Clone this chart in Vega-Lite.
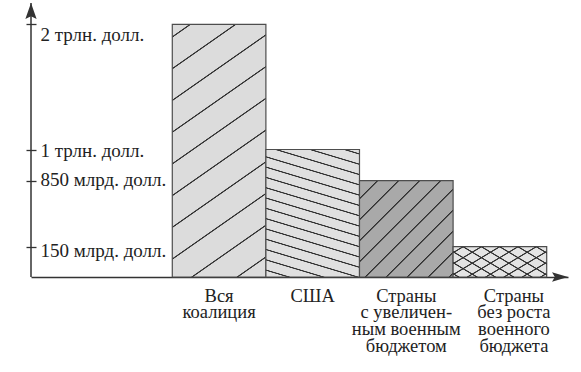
{
  "$schema": "https://vega.github.io/schema/vega-lite/v6.json",
  "width": 537,
  "height": 274,
  "autosize": "none",
  "padding": {"left": 31, "top": 3, "right": 13, "bottom": 95},
  "background": "white",
  "config": {"view": {"stroke": null}, "font": "Liberation Serif"},
  "data": {"values": [
    {"label": "Вся\nкоалиция", "value": 2000},
    {"label": "США", "value": 1000},
    {"label": "Страны\nс увеличен-\nным военным\nбюджетом", "value": 850},
    {"label": "Страны\nбез роста\nвоенного\nбюджета", "value": 150}
  ]},
  "resolve": {"scale": {"x": "independent"}},
  "layer": [
    {
      "layer": [
        {
          "mark": {"type": "bar", "opacity": 0},
          "encoding": {
            "x": {"field": "label", "type": "nominal", "sort": null, "title": null,
              "scale": {"paddingInner": 0, "paddingOuter": 0.8685, "align": 0.869},
              "axis": {"orient": "bottom", "domain": true, "domainColor": "#333333", "domainWidth": 1.5,
                "ticks": false, "grid": false, "labelAngle": 0, "labelFont": "Liberation Serif",
                "labelFontSize": 18.5, "labelColor": "#222222", "labelExpr": "split(datum.label, '\\n')",
                "labelBaseline": "alphabetic", "labelPadding": 24, "labelLineHeight": 16.7,
                "labelOverlap": false, "labelLimit": 0, "labelBound": false,
                "labelOffset": {"condition": {"test": "indexof(datum.value, 'без') >= 0", "value": 14}, "value": 0}}},
            "y": {"field": "value", "type": "quantitative", "title": null,
              "scale": {"domain": [0, 150, 850, 1000, 2000, 2170], "range": [274, 243.7, 177.7, 146.5, 21.3, 0], "nice": false, "zero": false},
              "axis": {"orient": "left", "values": [150, 850, 1000, 2000], "offset": -5, "domain": false,
                "ticks": true, "tickSize": 10, "tickColor": "#333333", "tickWidth": 1.3, "grid": false,
                "labelAlign": "left", "labelPadding": -14, "labelBaseline": "alphabetic",
                "labelOffset": {"condition": [
                  {"test": "datum.value == 2000", "value": 16.4},
                  {"test": "datum.value == 150", "value": 9.3},
                  {"test": "datum.value == 850", "value": 4.3}
                ], "value": 6.7},
                "labelExpr": "datum.value == 2000 ? '2 трлн. долл.' : datum.value == 1000 ? '1 трлн. долл.' : datum.value + ' млрд. долл.'",
                "labelFont": "Liberation Serif", "labelFontSize": 19, "labelColor": "#222222",
                "labelOverlap": false, "labelFlush": false, "labelBound": false, "labelLimit": 0}}
          }
        },
        {
          "transform": [{"filter": "datum.value == 2000"}],
          "mark": {"type": "bar", "stroke": "#4d4d4d", "strokeWidth": 1.2,
            "fill": {"gradient": "linear", "x1": 0, "y1": 0, "x2": 0.3059, "y2": 1.18, "stops": [
              {"offset": 0, "color": "#dcdcdc"},
              {"offset": 0.0363, "color": "#dcdcdc"}, {"offset": 0.0385, "color": "#333333"}, {"offset": 0.0411, "color": "#333333"}, {"offset": 0.0433, "color": "#dcdcdc"},
              {"offset": 0.1360, "color": "#dcdcdc"}, {"offset": 0.1382, "color": "#333333"}, {"offset": 0.1408, "color": "#333333"}, {"offset": 0.1430, "color": "#dcdcdc"},
              {"offset": 0.2357, "color": "#dcdcdc"}, {"offset": 0.2379, "color": "#333333"}, {"offset": 0.2405, "color": "#333333"}, {"offset": 0.2427, "color": "#dcdcdc"},
              {"offset": 0.3354, "color": "#dcdcdc"}, {"offset": 0.3376, "color": "#333333"}, {"offset": 0.3402, "color": "#333333"}, {"offset": 0.3424, "color": "#dcdcdc"},
              {"offset": 0.4351, "color": "#dcdcdc"}, {"offset": 0.4373, "color": "#333333"}, {"offset": 0.4399, "color": "#333333"}, {"offset": 0.4421, "color": "#dcdcdc"},
              {"offset": 0.5348, "color": "#dcdcdc"}, {"offset": 0.5370, "color": "#333333"}, {"offset": 0.5396, "color": "#333333"}, {"offset": 0.5418, "color": "#dcdcdc"},
              {"offset": 0.6345, "color": "#dcdcdc"}, {"offset": 0.6367, "color": "#333333"}, {"offset": 0.6393, "color": "#333333"}, {"offset": 0.6415, "color": "#dcdcdc"},
              {"offset": 0.7342, "color": "#dcdcdc"}, {"offset": 0.7364, "color": "#333333"}, {"offset": 0.7390, "color": "#333333"}, {"offset": 0.7412, "color": "#dcdcdc"},
              {"offset": 0.8339, "color": "#dcdcdc"}, {"offset": 0.8361, "color": "#333333"}, {"offset": 0.8387, "color": "#333333"}, {"offset": 0.8409, "color": "#dcdcdc"},
              {"offset": 0.9336, "color": "#dcdcdc"}, {"offset": 0.9358, "color": "#333333"}, {"offset": 0.9384, "color": "#333333"}, {"offset": 0.9406, "color": "#dcdcdc"},
              {"offset": 1, "color": "#dcdcdc"}
            ]}},
          "encoding": {
            "x": {"field": "label", "type": "nominal", "sort": null, "title": null},
            "y": {"field": "value", "type": "quantitative", "title": null}
          }
        },
        {
          "transform": [{"filter": "datum.value == 1000"}],
          "mark": {"type": "bar", "stroke": "#4d4d4d", "strokeWidth": 1.2,
            "fill": {"gradient": "linear", "x1": 1, "y1": 0, "x2": 0.7437, "y2": 1.1638, "stops": [
              {"offset": 0, "color": "#e0e0e0"},
              {"offset": 0.0228, "color": "#e0e0e0"}, {"offset": 0.0265, "color": "#333333"}, {"offset": 0.0311, "color": "#333333"}, {"offset": 0.0348, "color": "#e0e0e0"},
              {"offset": 0.0890, "color": "#e0e0e0"}, {"offset": 0.0927, "color": "#333333"}, {"offset": 0.0973, "color": "#333333"}, {"offset": 0.1010, "color": "#e0e0e0"},
              {"offset": 0.1552, "color": "#e0e0e0"}, {"offset": 0.1589, "color": "#333333"}, {"offset": 0.1635, "color": "#333333"}, {"offset": 0.1672, "color": "#e0e0e0"},
              {"offset": 0.2214, "color": "#e0e0e0"}, {"offset": 0.2251, "color": "#333333"}, {"offset": 0.2297, "color": "#333333"}, {"offset": 0.2334, "color": "#e0e0e0"},
              {"offset": 0.2876, "color": "#e0e0e0"}, {"offset": 0.2913, "color": "#333333"}, {"offset": 0.2959, "color": "#333333"}, {"offset": 0.2996, "color": "#e0e0e0"},
              {"offset": 0.3538, "color": "#e0e0e0"}, {"offset": 0.3575, "color": "#333333"}, {"offset": 0.3621, "color": "#333333"}, {"offset": 0.3658, "color": "#e0e0e0"},
              {"offset": 0.4200, "color": "#e0e0e0"}, {"offset": 0.4237, "color": "#333333"}, {"offset": 0.4283, "color": "#333333"}, {"offset": 0.4320, "color": "#e0e0e0"},
              {"offset": 0.4862, "color": "#e0e0e0"}, {"offset": 0.4899, "color": "#333333"}, {"offset": 0.4945, "color": "#333333"}, {"offset": 0.4982, "color": "#e0e0e0"},
              {"offset": 0.5524, "color": "#e0e0e0"}, {"offset": 0.5561, "color": "#333333"}, {"offset": 0.5607, "color": "#333333"}, {"offset": 0.5644, "color": "#e0e0e0"},
              {"offset": 0.6186, "color": "#e0e0e0"}, {"offset": 0.6223, "color": "#333333"}, {"offset": 0.6269, "color": "#333333"}, {"offset": 0.6306, "color": "#e0e0e0"},
              {"offset": 0.6848, "color": "#e0e0e0"}, {"offset": 0.6885, "color": "#333333"}, {"offset": 0.6931, "color": "#333333"}, {"offset": 0.6968, "color": "#e0e0e0"},
              {"offset": 0.7510, "color": "#e0e0e0"}, {"offset": 0.7547, "color": "#333333"}, {"offset": 0.7593, "color": "#333333"}, {"offset": 0.7630, "color": "#e0e0e0"},
              {"offset": 0.8172, "color": "#e0e0e0"}, {"offset": 0.8209, "color": "#333333"}, {"offset": 0.8255, "color": "#333333"}, {"offset": 0.8292, "color": "#e0e0e0"},
              {"offset": 0.8834, "color": "#e0e0e0"}, {"offset": 0.8871, "color": "#333333"}, {"offset": 0.8917, "color": "#333333"}, {"offset": 0.8954, "color": "#e0e0e0"},
              {"offset": 0.9496, "color": "#e0e0e0"}, {"offset": 0.9533, "color": "#333333"}, {"offset": 0.9579, "color": "#333333"}, {"offset": 0.9616, "color": "#e0e0e0"},
              {"offset": 1, "color": "#e0e0e0"}
            ]}},
          "encoding": {
            "x": {"field": "label", "type": "nominal", "sort": null, "title": null},
            "y": {"field": "value", "type": "quantitative", "title": null}
          }
        },
        {
          "transform": [{"filter": "datum.value == 850"}],
          "mark": {"type": "bar", "stroke": "#4d4d4d", "strokeWidth": 1.2,
            "fill": {"gradient": "linear", "x1": 0, "y1": 0, "x2": 0.9856, "y2": 1.014, "stops": [
              {"offset": 0, "color": "#a9a9a9"},
              {"offset": 0.0883, "color": "#a9a9a9"}, {"offset": 0.0924, "color": "#2e2e2e"}, {"offset": 0.0976, "color": "#2e2e2e"}, {"offset": 0.1017, "color": "#a9a9a9"},
              {"offset": 0.1989, "color": "#a9a9a9"}, {"offset": 0.2030, "color": "#2e2e2e"}, {"offset": 0.2082, "color": "#2e2e2e"}, {"offset": 0.2123, "color": "#a9a9a9"},
              {"offset": 0.3095, "color": "#a9a9a9"}, {"offset": 0.3136, "color": "#2e2e2e"}, {"offset": 0.3188, "color": "#2e2e2e"}, {"offset": 0.3229, "color": "#a9a9a9"},
              {"offset": 0.4201, "color": "#a9a9a9"}, {"offset": 0.4242, "color": "#2e2e2e"}, {"offset": 0.4294, "color": "#2e2e2e"}, {"offset": 0.4335, "color": "#a9a9a9"},
              {"offset": 0.5307, "color": "#a9a9a9"}, {"offset": 0.5348, "color": "#2e2e2e"}, {"offset": 0.5400, "color": "#2e2e2e"}, {"offset": 0.5441, "color": "#a9a9a9"},
              {"offset": 0.6413, "color": "#a9a9a9"}, {"offset": 0.6454, "color": "#2e2e2e"}, {"offset": 0.6506, "color": "#2e2e2e"}, {"offset": 0.6547, "color": "#a9a9a9"},
              {"offset": 0.7519, "color": "#a9a9a9"}, {"offset": 0.7560, "color": "#2e2e2e"}, {"offset": 0.7612, "color": "#2e2e2e"}, {"offset": 0.7653, "color": "#a9a9a9"},
              {"offset": 0.8625, "color": "#a9a9a9"}, {"offset": 0.8666, "color": "#2e2e2e"}, {"offset": 0.8718, "color": "#2e2e2e"}, {"offset": 0.8759, "color": "#a9a9a9"},
              {"offset": 0.9731, "color": "#a9a9a9"}, {"offset": 0.9772, "color": "#2e2e2e"}, {"offset": 0.9824, "color": "#2e2e2e"}, {"offset": 0.9865, "color": "#a9a9a9"},
              {"offset": 1, "color": "#a9a9a9"}
            ]}},
          "encoding": {
            "x": {"field": "label", "type": "nominal", "sort": null, "title": null},
            "y": {"field": "value", "type": "quantitative", "title": null}
          }
        },
        {
          "transform": [{"filter": "datum.value == 150"}],
          "mark": {"type": "bar", "stroke": "#4d4d4d", "strokeWidth": 1.2,
            "fill": {"gradient": "linear", "x1": 0, "y1": 0, "x2": 1.1924, "y2": 0.6433, "stops": [
              {"offset": 0, "color": "#e4e4e4"},
              {"offset": 0.0573, "color": "#e4e4e4"}, {"offset": 0.0647, "color": "#333333"}, {"offset": 0.0741, "color": "#333333"}, {"offset": 0.0815, "color": "#e4e4e4"},
              {"offset": 0.1843, "color": "#e4e4e4"}, {"offset": 0.1917, "color": "#333333"}, {"offset": 0.2011, "color": "#333333"}, {"offset": 0.2085, "color": "#e4e4e4"},
              {"offset": 0.3113, "color": "#e4e4e4"}, {"offset": 0.3187, "color": "#333333"}, {"offset": 0.3281, "color": "#333333"}, {"offset": 0.3355, "color": "#e4e4e4"},
              {"offset": 0.4383, "color": "#e4e4e4"}, {"offset": 0.4457, "color": "#333333"}, {"offset": 0.4551, "color": "#333333"}, {"offset": 0.4625, "color": "#e4e4e4"},
              {"offset": 0.5653, "color": "#e4e4e4"}, {"offset": 0.5727, "color": "#333333"}, {"offset": 0.5821, "color": "#333333"}, {"offset": 0.5895, "color": "#e4e4e4"},
              {"offset": 0.6923, "color": "#e4e4e4"}, {"offset": 0.6997, "color": "#333333"}, {"offset": 0.7091, "color": "#333333"}, {"offset": 0.7165, "color": "#e4e4e4"},
              {"offset": 0.8193, "color": "#e4e4e4"}, {"offset": 0.8267, "color": "#333333"}, {"offset": 0.8361, "color": "#333333"}, {"offset": 0.8435, "color": "#e4e4e4"},
              {"offset": 0.9463, "color": "#e4e4e4"}, {"offset": 0.9537, "color": "#333333"}, {"offset": 0.9631, "color": "#333333"}, {"offset": 0.9705, "color": "#e4e4e4"},
              {"offset": 1, "color": "#e4e4e4"}
            ]}},
          "encoding": {
            "x": {"field": "label", "type": "nominal", "sort": null, "title": null},
            "y": {"field": "value", "type": "quantitative", "title": null}
          }
        },
        {
          "transform": [{"filter": "datum.value == 150"}],
          "mark": {"type": "bar", "strokeWidth": 0,
            "fill": {"gradient": "linear", "x1": 1, "y1": 0, "x2": -0.1924, "y2": 0.6433, "stops": [
              {"offset": 0, "color": "rgba(51,51,51,0)"},
              {"offset": 0.0601, "color": "rgba(51,51,51,0)"}, {"offset": 0.0675, "color": "#333333"}, {"offset": 0.0769, "color": "#333333"}, {"offset": 0.0843, "color": "rgba(51,51,51,0)"},
              {"offset": 0.1871, "color": "rgba(51,51,51,0)"}, {"offset": 0.1945, "color": "#333333"}, {"offset": 0.2039, "color": "#333333"}, {"offset": 0.2113, "color": "rgba(51,51,51,0)"},
              {"offset": 0.3141, "color": "rgba(51,51,51,0)"}, {"offset": 0.3215, "color": "#333333"}, {"offset": 0.3309, "color": "#333333"}, {"offset": 0.3383, "color": "rgba(51,51,51,0)"},
              {"offset": 0.4411, "color": "rgba(51,51,51,0)"}, {"offset": 0.4485, "color": "#333333"}, {"offset": 0.4579, "color": "#333333"}, {"offset": 0.4653, "color": "rgba(51,51,51,0)"},
              {"offset": 0.5681, "color": "rgba(51,51,51,0)"}, {"offset": 0.5755, "color": "#333333"}, {"offset": 0.5849, "color": "#333333"}, {"offset": 0.5923, "color": "rgba(51,51,51,0)"},
              {"offset": 0.6951, "color": "rgba(51,51,51,0)"}, {"offset": 0.7025, "color": "#333333"}, {"offset": 0.7119, "color": "#333333"}, {"offset": 0.7193, "color": "rgba(51,51,51,0)"},
              {"offset": 0.8221, "color": "rgba(51,51,51,0)"}, {"offset": 0.8295, "color": "#333333"}, {"offset": 0.8389, "color": "#333333"}, {"offset": 0.8463, "color": "rgba(51,51,51,0)"},
              {"offset": 0.9491, "color": "rgba(51,51,51,0)"}, {"offset": 0.9565, "color": "#333333"}, {"offset": 0.9659, "color": "#333333"}, {"offset": 0.9733, "color": "rgba(51,51,51,0)"},
              {"offset": 1, "color": "rgba(51,51,51,0)"}
            ]}},
          "encoding": {
            "x": {"field": "label", "type": "nominal", "sort": null, "title": null},
            "y": {"field": "value", "type": "quantitative", "title": null}
          }
        }
      ]
    },
    {
      "data": {"values": [{}]},
      "layer": [
        {
          "mark": {"type": "rule", "stroke": "#333333", "strokeWidth": 1.5},
          "encoding": {
            "x": {"datum": 0, "type": "quantitative", "scale": {"domain": [0, 1]}, "axis": null},
            "y": {"datum": 0, "type": "quantitative", "title": null},
            "y2": {"datum": 2170}
          }
        },
        {
          "mark": {"type": "point", "shape": "M0,0L0.3,0.85L0,0.7L-0.3,0.85Z", "size": 1414, "filled": true, "color": "#333333", "opacity": 1, "strokeWidth": 0},
          "encoding": {
            "x": {"datum": 0, "type": "quantitative"},
            "y": {"datum": 2170, "type": "quantitative", "title": null}
          }
        },
        {
          "mark": {"type": "point", "shape": "M0,0L-0.85,-0.25L-0.7,0L-0.85,0.25Z", "size": 1414, "filled": true, "color": "#333333", "opacity": 1, "strokeWidth": 0},
          "encoding": {
            "x": {"datum": 1, "type": "quantitative"},
            "y": {"datum": 0, "type": "quantitative", "title": null}
          }
        }
      ]
    }
  ]
}
